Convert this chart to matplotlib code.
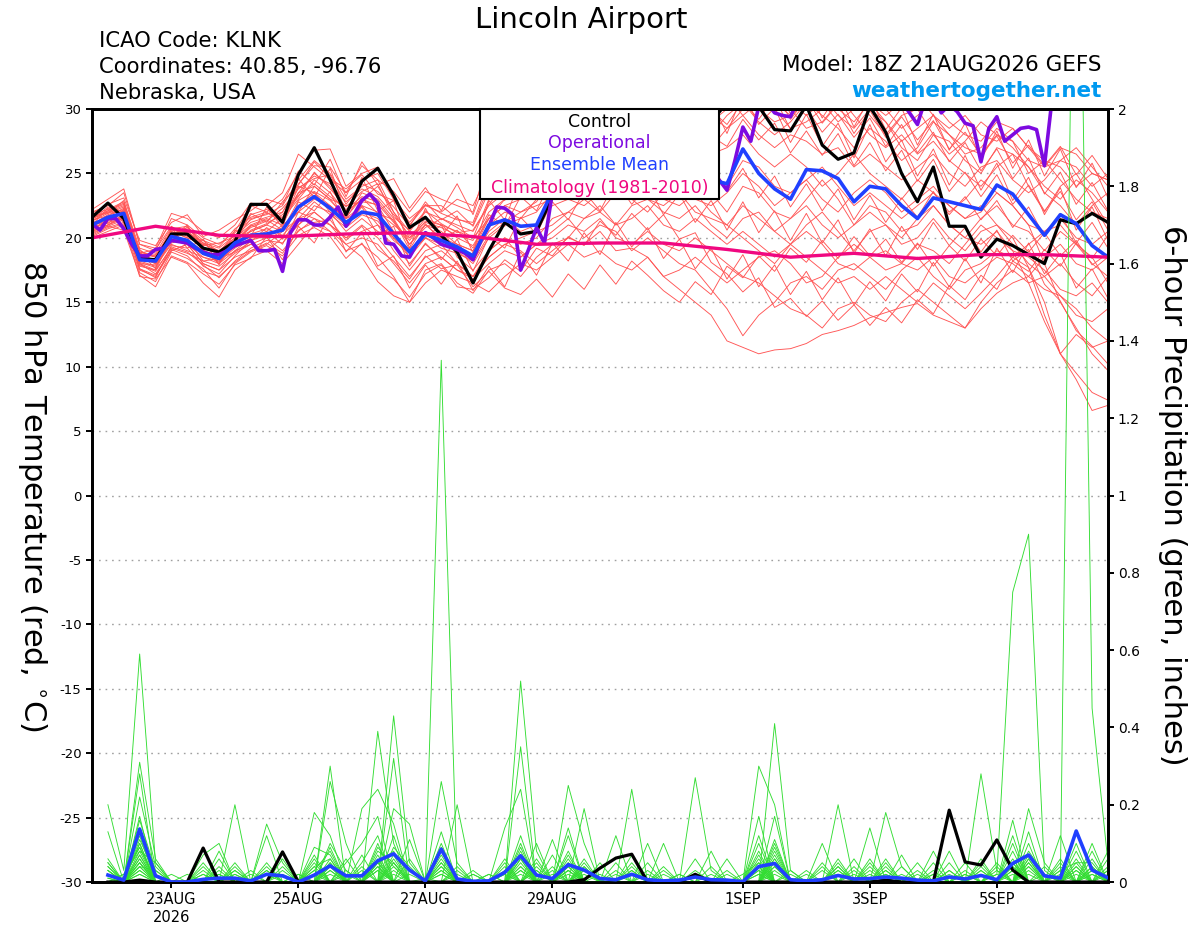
import matplotlib
matplotlib.use('Agg')
import matplotlib.pyplot as plt
from matplotlib.patches import Rectangle
import pandas as pd

plt.rcParams['font.family'] = ['DejaVu Sans']
plt.rcParams['axes.unicode_minus'] = False

# ---------------- data ----------------
run_start = '2026-08-21 18:00'
times = pd.date_range(run_start, periods=65, freq='6h')        # temperature, 6-hourly
times_op = pd.date_range(run_start, periods=129, freq='3h')    # operational, 3-hourly
times_clim = pd.date_range(run_start, periods=17, freq='24h')  # climatology, daily
times_pcp = times[1:]                                          # 6-h precip accumulations

tick_dates = ['2026-08-23', '2026-08-25', '2026-08-27', '2026-08-29',
              '2026-09-01', '2026-09-03', '2026-09-05']
tick_labels = ['23AUG\n2026', '25AUG', '27AUG', '29AUG', '1SEP', '3SEP', '5SEP']

temp_ticks = [30, 25, 20, 15, 10, 5, 0, -5, -10, -15, -20, -25, -30]
pcp_ticks = [0, 0.2, 0.4, 0.6, 0.8, 1, 1.2, 1.4, 1.6, 1.8, 2]
pcp_tick_labels = ['0', '0.2', '0.4', '0.6', '0.8', '1', '1.2', '1.4', '1.6', '1.8', '2']

control_temp = [21.6, 22.7, 21.5, 18.4, 18.3, 20.3, 20.3, 19.2, 18.9, 19.7,
                22.6, 22.6, 21.2, 24.9, 27.0, 24.5, 21.8, 24.4, 25.4, 23.3,
                20.8, 21.6, 20.2, 18.9, 16.5, 19.0, 21.2, 20.3, 20.5, 23.2,
                24.5, 25.0, 26.0, 25.5, 26.5, 27.0, 26.0, 27.5, 28.0, 29.0,
                30.5, 30.8, 30.2, 28.4, 28.3, 30.3, 27.2, 26.1, 26.6, 30.2,
                28.2, 25.0, 22.8, 25.5, 20.9, 20.9, 18.5, 19.9, 19.4, 18.7,
                18.0, 21.4, 21.1, 21.9, 21.2]

mean_temp = [21.0, 21.6, 21.9, 18.3, 18.2, 20.1, 19.8, 18.8, 18.4, 19.6,
             20.2, 20.3, 20.6, 22.4, 23.2, 22.3, 21.2, 22.0, 21.8, 20.3,
             18.9, 20.3, 19.8, 19.3, 18.6, 21.0, 21.4, 20.9, 21.0, 23.6,
             24.3, 24.8, 25.0, 25.3, 25.6, 25.2, 25.0, 25.4, 24.8, 24.5,
             24.2, 26.9, 25.0, 23.8, 23.0, 25.3, 25.2, 24.6, 22.8, 24.0,
             23.8, 22.5, 21.5, 23.1, 22.8, 22.5, 22.2, 24.1, 23.4, 21.8,
             20.2, 21.8, 21.1, 19.4, 18.5]

oper_temp = [21.1, 20.6, 21.5, 21.5, 20.7, 19.5, 18.6, 18.6, 19.1, 19.2,
             19.8, 19.7, 19.6, 19.2, 18.9, 18.7, 18.7, 19.0, 19.4, 19.6,
             19.8, 19.0, 19.0, 19.1, 17.4, 20.4, 21.4, 21.4, 21.0, 21.0,
             21.6, 22.4, 20.9, 21.8, 22.9, 23.4, 22.7, 19.6, 19.5, 18.6,
             18.5, 19.6, 20.4, 20.0, 19.5, 19.3, 19.1, 18.8, 18.3, 19.8,
             20.9, 22.4, 22.3, 21.8, 17.5, 19.1, 20.8, 19.6, 23.5, 25.6,
             26.0, 26.5, 27.0, 26.5, 27.5, 27.0, 26.5, 27.0, 26.0, 25.5,
             26.0, 25.5, 25.0, 25.5, 26.0, 25.0, 25.5, 24.5, 25.0, 24.5,
             23.7, 26.0, 28.6, 27.5, 30.2, 30.5, 29.7, 29.5, 29.4, 30.8,
             31.0, 31.5, 31.2, 32.0, 31.5, 31.0, 31.8, 32.2, 31.5, 31.0,
             30.8, 31.2, 30.6, 29.7, 28.8, 30.8, 31.0, 29.7, 30.3, 29.8,
             28.9, 28.7, 25.9, 28.5, 29.4, 27.5, 28.0, 28.5, 28.6, 28.4,
             25.6, 31.0, 32.5, 33.0, 33.5, 33.0, 33.8, 34.0, 33.5]

clim_temp = [20.0, 20.9, 20.2, 20.1, 20.3, 20.4, 20.1, 19.5, 19.6,
             19.6, 19.1, 18.5, 18.8, 18.4, 18.7, 18.7, 18.5]

tmp01 = [21.5, 22.0, 22.5, 19.0, 18.5, 20.5, 20.0, 19.5, 19.0, 20.0, 21.0, 21.5, 21.0, 23.5, 25.0,
         24.0, 22.0, 23.0, 24.0, 22.0, 20.0, 21.5, 21.0, 20.5, 20.0, 23.0, 24.5, 24.0, 25.0, 27.0,
         28.0, 29.0, 28.5, 30.0, 31.0, 30.5, 31.5, 32.0, 31.0, 30.5, 32.0, 33.0, 31.5, 30.5, 29.5,
         31.0, 32.0, 30.0, 29.0, 30.5, 29.0, 27.0, 26.0, 28.0, 27.5, 26.0, 25.0, 27.0, 26.5, 24.0,
         22.0, 24.0, 25.0, 23.0, 21.0]
tmp02 = [20.5, 21.0, 21.5, 17.5, 17.0, 19.0, 19.5, 18.0, 17.5, 19.0, 19.5, 19.0, 20.0, 21.0, 22.0,
         21.0, 20.0, 20.5, 21.0, 19.0, 17.5, 19.0, 19.5, 18.0, 17.0, 18.5, 19.5, 19.0, 18.0, 19.0,
         20.0, 19.5, 20.5, 19.0, 19.2, 18.5, 17.0, 16.0, 15.0, 14.0, 12.0, 11.5, 11.0, 11.3, 11.4,
         11.8, 12.5, 12.8, 13.2, 13.8, 14.2, 14.6, 14.9, 14.0, 13.5, 13.0, 14.5, 15.7, 16.5, 17.0,
         16.0, 15.5, 14.5, 13.0, 12.0]
tmp03 = [21.0, 21.5, 22.0, 18.0, 17.5, 20.0, 21.0, 19.0, 18.0, 19.5, 21.0, 20.5, 19.5, 22.0, 24.0,
         23.0, 21.5, 22.5, 21.0, 20.0, 19.0, 20.0, 21.0, 18.5, 17.5, 19.0, 20.0, 18.5, 19.5, 20.5,
         21.5, 20.0, 21.0, 20.5, 19.0, 20.0, 19.0, 18.0, 17.5, 16.0, 14.5, 12.4, 14.0, 15.0, 16.5,
         17.0, 16.0, 17.5, 18.0, 17.0, 16.0, 17.5, 18.5, 17.0, 16.0, 17.5, 18.0, 19.0, 18.5, 17.7,
         15.0, 11.0, 12.5, 11.5, 12.0]
tmp04 = [22.0, 22.5, 23.5, 19.5, 19.0, 21.5, 21.0, 20.0, 19.5, 20.5, 22.5, 22.0, 23.0, 25.0, 26.8,
         26.9, 24.0, 25.0, 25.5, 23.0, 21.0, 22.5, 22.0, 23.0, 22.5, 25.0, 26.2, 27.0, 28.0, 29.0,
         30.0, 31.0, 30.5, 29.5, 31.0, 32.0, 31.5, 30.0, 31.0, 32.0, 31.0, 29.5, 30.5, 31.5, 30.0,
         28.5, 29.0, 30.5, 31.0, 29.5, 28.0, 29.5, 30.0, 28.0, 26.5, 27.5, 29.0, 28.0, 27.0, 25.5,
         24.0, 23.0, 24.5, 23.5, 22.0]
tmp05 = [20.0, 20.5, 21.0, 17.0, 16.8, 18.5, 18.0, 16.5, 15.4, 17.5, 18.5, 19.0, 18.0, 19.5, 21.0,
         20.5, 19.0, 19.5, 18.5, 17.0, 15.0, 17.5, 18.0, 16.5, 15.7, 17.5, 18.0, 17.0, 18.5, 19.5,
         20.0, 21.5, 22.0, 21.0, 22.5, 23.0, 22.0, 21.5, 22.5, 21.0, 20.0, 21.5, 22.0, 20.5, 19.5,
         21.0, 22.0, 20.5, 19.0, 20.5, 21.0, 19.5, 20.0, 21.5, 20.0, 19.0, 20.5, 21.0, 19.5, 18.0,
         17.0, 15.5, 14.0, 13.5, 14.5]
tmp06 = [21.5, 22.0, 22.0, 18.5, 18.0, 20.0, 20.5, 19.0, 18.5, 19.5, 20.5, 21.0, 22.0, 24.0, 23.5,
         22.5, 21.5, 23.5, 23.0, 21.5, 19.5, 21.0, 20.5, 19.5, 19.0, 21.5, 23.0, 24.5, 25.5, 26.5,
         27.0, 28.5, 29.5, 28.5, 29.0, 28.0, 29.5, 30.5, 29.0, 28.0, 29.5, 30.5, 29.0, 28.0, 29.0,
         30.5, 29.5, 28.5, 27.0, 28.5, 27.5, 26.0, 27.0, 29.0, 28.0, 27.0, 26.5, 28.0, 27.5, 25.0,
         26.0, 25.5, 24.0, 25.0, 24.5]
tmp07 = [20.8, 21.2, 21.5, 18.2, 17.8, 19.5, 19.0, 18.5, 18.0, 19.0, 20.0, 20.5, 21.5, 23.0, 24.5,
         23.5, 22.0, 23.0, 22.5, 20.5, 18.5, 20.0, 19.5, 19.0, 18.0, 20.0, 21.0, 21.5, 22.0, 23.5,
         24.0, 25.0, 24.5, 26.0, 25.0, 24.0, 25.5, 26.0, 24.5, 23.5, 22.0, 24.0, 23.5, 22.0, 21.5,
         23.0, 24.5, 23.0, 21.0, 22.5, 22.0, 20.5, 21.0, 22.5, 21.0, 20.0, 21.5, 22.5, 21.0, 20.5,
         19.0, 20.5, 19.5, 18.0, 17.0]
tmp08 = [21.0, 21.8, 22.2, 18.0, 17.2, 19.0, 19.5, 18.0, 17.5, 18.5, 19.0, 19.5, 20.5, 21.5, 22.0,
         21.0, 19.5, 18.5, 16.6, 15.5, 15.0, 16.5, 17.5, 17.0, 16.5, 15.8, 17.0, 18.0, 17.5, 18.5,
         19.5, 18.5, 19.0, 18.0, 17.5, 18.5, 17.0, 17.5, 18.5, 17.5, 16.5, 17.5, 18.5, 19.0, 18.0,
         16.5, 17.0, 18.5, 19.5, 18.5, 17.5, 18.0, 19.5, 19.0, 18.0, 19.5, 21.0, 20.0, 19.0, 18.5,
         17.5, 16.0, 15.5, 16.5, 15.0]
tmp09 = [21.2, 21.5, 22.0, 18.8, 18.5, 20.5, 20.0, 19.5, 19.0, 20.0, 20.5, 21.0, 20.5, 22.5, 23.5,
         22.0, 21.0, 22.5, 22.0, 21.0, 20.0, 21.0, 20.0, 19.5, 19.0, 21.0, 22.0, 21.5, 23.0, 24.0,
         25.5, 26.0, 27.0, 26.5, 27.5, 27.0, 28.0, 27.5, 26.5, 27.0, 28.5, 29.5, 28.0, 27.0, 28.0,
         27.5, 26.5, 27.0, 25.5, 26.5, 25.5, 24.5, 25.5, 26.5, 25.0, 24.0, 25.5, 26.0, 24.5, 23.5,
         24.5, 26.0, 25.5, 24.0, 25.0]
tmp10 = [20.5, 21.0, 21.8, 18.5, 18.0, 19.8, 19.5, 18.5, 18.2, 19.2, 20.0, 20.0, 21.0, 22.0, 23.0,
         22.5, 21.5, 22.0, 21.5, 20.0, 18.5, 20.5, 20.0, 19.0, 18.5, 20.5, 21.5, 20.5, 21.0, 22.5,
         23.0, 22.5, 23.5, 24.0, 23.0, 22.0, 23.5, 24.0, 23.0, 22.5, 23.5, 25.0, 24.0, 22.5, 23.5,
         24.5, 23.0, 22.0, 23.5, 24.5, 23.5, 22.0, 23.0, 24.0, 22.5, 21.5, 22.5, 21.0, 20.0, 17.7,
         14.0, 11.0, 9.5, 8.0, 7.4]
tmp11 = [21.8, 22.2, 22.8, 19.2, 18.8, 20.8, 20.2, 19.2, 18.8, 19.8, 21.5, 21.8, 22.5, 24.5, 26.0,
         25.0, 23.0, 24.0, 24.5, 22.0, 20.5, 22.0, 21.5, 21.0, 20.5, 22.5, 23.5, 23.0, 24.5, 25.5,
         26.5, 27.5, 26.5, 28.0, 27.0, 26.0, 27.0, 28.5, 27.5, 26.5, 27.0, 28.0, 26.5, 25.5, 26.5,
         25.5, 24.0, 25.0, 26.5, 25.0, 24.0, 23.0, 24.5, 23.5, 22.0, 23.0, 24.5, 23.5, 22.5, 21.0,
         18.0, 15.0, 13.0, 11.0, 9.7]
tmp12 = [20.2, 20.8, 21.2, 17.8, 17.5, 19.2, 18.8, 18.2, 17.8, 18.8, 19.5, 20.0, 19.0, 20.5, 21.5,
         21.0, 20.0, 21.0, 20.0, 18.5, 17.0, 18.5, 19.0, 18.0, 17.0, 19.0, 20.0, 19.5, 20.0, 21.5,
         22.0, 23.0, 22.0, 23.5, 24.0, 23.0, 22.5, 23.5, 22.0, 21.5, 21.0, 22.5, 21.5, 20.5, 21.5,
         22.5, 21.0, 20.0, 21.0, 22.0, 21.0, 20.0, 21.5, 22.5, 21.0, 20.0, 19.5, 20.5, 19.0, 16.5,
         13.5, 11.0, 9.0, 6.6, 7.0]
tmp13 = [22.2, 23.0, 23.8, 19.5, 19.2, 21.9, 21.5, 20.5, 20.0, 21.0, 22.7, 22.5, 23.5, 26.5, 25.5,
         24.5, 23.5, 25.6, 24.5, 23.6, 22.0, 23.6, 23.0, 22.5, 22.0, 26.2, 27.5, 28.5, 29.0, 30.0,
         30.5, 31.5, 32.0, 30.5, 31.5, 32.5, 31.0, 31.5, 32.0, 31.0, 30.0, 31.5, 32.5, 31.0, 30.5,
         29.5, 30.5, 29.0, 30.0, 31.5, 30.0, 28.5, 29.5, 30.5, 29.0, 28.0, 27.5, 29.0, 28.5, 27.0,
         25.5, 26.0, 27.0, 25.5, 24.0]
tmp14 = [20.6, 21.3, 21.6, 17.6, 16.9, 19.4, 19.2, 17.8, 17.2, 18.6, 19.8, 20.2, 20.8, 22.0, 21.5,
         20.5, 19.5, 20.0, 19.5, 18.0, 16.5, 18.0, 18.5, 17.5, 16.8, 18.0, 19.0, 18.5, 19.5, 20.0,
         21.0, 20.5, 21.5, 20.0, 19.5, 20.5, 19.5, 19.0, 20.0, 19.0, 18.0, 17.0, 16.5, 15.5, 14.5,
         14.0, 13.0, 14.5, 15.0, 14.0, 13.5, 15.0, 16.0, 15.0, 14.0, 13.0, 15.0, 16.5, 17.5, 16.5,
         17.0, 18.0, 16.5, 15.5, 17.0]
tmp15 = [21.3, 21.9, 22.4, 18.7, 18.2, 20.2, 20.6, 19.3, 18.7, 19.7, 20.8, 21.3, 22.3, 23.8, 24.8,
         24.2, 22.8, 23.8, 23.2, 21.8, 20.2, 21.2, 20.8, 20.2, 19.8, 22.0, 23.0, 23.5, 24.0, 25.0,
         26.0, 25.5, 27.0, 28.0, 27.5, 28.5, 29.0, 28.0, 29.5, 29.0, 30.0, 31.0, 30.0, 29.0, 29.5,
         30.5, 31.0, 29.5, 28.5, 30.0, 29.0, 27.5, 28.5, 29.5, 28.0, 26.5, 27.0, 28.5, 27.5, 26.0,
         25.5, 27.0, 26.5, 25.0, 24.5]
tmp16 = [20.4, 20.9, 21.4, 17.9, 17.4, 19.3, 18.9, 17.9, 16.9, 18.2, 19.2, 19.8, 19.6, 21.0, 22.5,
         22.0, 20.5, 21.5, 20.5, 19.5, 18.0, 19.5, 18.5, 17.5, 17.0, 18.5, 19.5, 20.0, 20.5, 21.0,
         22.0, 21.5, 22.5, 21.0, 21.5, 22.5, 21.0, 20.5, 21.5, 20.5, 19.5, 20.5, 19.5, 18.5, 19.5,
         20.5, 19.5, 18.0, 17.5, 18.5, 19.0, 18.0, 17.5, 18.5, 17.0, 16.5, 17.5, 18.5, 18.0, 17.0,
         18.5, 19.5, 18.0, 17.5, 18.5]
tmp17 = [21.6, 22.1, 22.6, 18.9, 18.6, 20.6, 20.4, 19.6, 19.2, 20.2, 21.2, 21.6, 22.0, 24.2, 25.6,
         25.5, 23.5, 24.5, 25.0, 23.0, 21.5, 22.5, 22.5, 21.5, 21.0, 24.0, 25.0, 25.5, 27.0, 28.0,
         29.0, 30.5, 31.5, 31.0, 32.0, 31.5, 30.5, 31.5, 32.5, 31.0, 32.0, 32.5, 31.0, 31.5, 32.5,
         31.5, 30.5, 31.5, 32.0, 30.5, 29.5, 30.5, 31.0, 29.5, 28.5, 29.5, 28.0, 27.5, 28.5, 27.0,
         26.0, 24.5, 23.0, 22.0, 21.5]
tmp18 = [20.9, 21.4, 21.9, 18.4, 18.1, 20.1, 19.7, 18.7, 18.3, 19.4, 20.3, 20.7, 20.2, 21.5, 22.8,
         21.8, 20.8, 21.8, 21.3, 19.8, 18.8, 20.0, 19.2, 18.8, 18.2, 20.2, 21.2, 22.0, 22.5, 23.0,
         23.5, 24.5, 25.5, 25.0, 26.0, 25.5, 24.5, 25.0, 26.0, 25.0, 24.0, 26.0, 25.5, 24.0, 23.5,
         24.5, 25.5, 24.0, 22.5, 23.5, 22.5, 21.5, 22.5, 23.5, 22.5, 21.5, 22.0, 23.5, 22.5, 21.0,
         20.5, 21.5, 20.0, 19.5, 20.5]
tmp19 = [21.4, 21.7, 22.3, 18.6, 18.3, 20.3, 20.8, 19.8, 18.9, 19.9, 21.8, 22.2, 21.5, 23.5, 24.0,
         23.0, 22.5, 22.8, 22.6, 21.2, 19.5, 20.8, 21.5, 20.8, 20.0, 21.5, 22.5, 22.0, 22.8, 24.5,
         25.0, 24.0, 25.5, 24.5, 23.5, 24.5, 23.0, 22.5, 23.5, 22.0, 21.0, 20.0, 19.0, 18.0, 19.5,
         18.5, 17.5, 16.5, 17.0, 16.0, 17.0, 16.0, 15.0, 16.5, 15.5, 14.5, 15.7, 17.0, 18.5, 19.5,
         20.5, 21.0, 19.5, 18.5, 16.5]
tmp20 = [21.1, 21.6, 22.1, 18.1, 17.7, 19.9, 19.8, 19.0, 18.6, 19.3, 20.6, 21.1, 21.8, 23.3, 24.2,
         23.2, 22.2, 23.2, 22.8, 21.3, 19.8, 21.3, 21.0, 20.0, 19.4, 21.5, 22.5, 23.0, 23.5, 25.5,
         26.5, 27.0, 28.0, 27.0, 28.5, 29.5, 30.0, 29.0, 30.5, 29.5, 28.5, 30.0, 31.0, 30.0, 28.5,
         29.0, 30.0, 31.0, 29.5, 28.0, 27.0, 28.0, 26.5, 27.5, 26.0, 25.0, 24.0, 25.5, 26.5, 25.5,
         23.5, 22.5, 21.0, 22.5, 23.5]
tmp21 = [21.0, 22.3, 21.2, 18.9, 17.6, 20.8, 19.2, 19.9, 17.9, 20.6, 20.1, 22.4, 20.8, 24.6, 23.1,
         25.4, 21.9, 24.7, 22.1, 22.9, 19.2, 22.3, 20.1, 21.7, 18.8, 22.9, 21.4, 24.6, 23.0, 26.8,
         25.1, 28.4, 26.2, 29.5, 27.3, 30.4, 27.8, 29.9, 27.2, 30.6, 28.1, 31.2, 28.8, 30.1, 27.4,
         29.6, 27.1, 28.9, 26.2, 28.8, 25.9, 27.6, 24.8, 26.9, 24.1, 26.4, 23.7, 25.8, 22.9, 24.7,
         21.8, 23.9, 20.6, 22.4, 19.8]
tmp22 = [20.3, 20.9, 20.6, 17.1, 16.2, 18.6, 18.1, 17.2, 16.4, 17.9, 18.4, 20.1, 18.3, 20.9, 19.6,
         21.8, 18.9, 20.4, 17.8, 18.6, 16.1, 17.9, 16.4, 18.2, 15.9, 17.8, 16.2, 18.9, 17.1, 19.6,
         18.2, 20.4, 18.7, 21.2, 19.3, 20.8, 18.4, 19.9, 17.6, 19.2, 16.8, 18.7, 16.2, 17.9, 15.6,
         17.4, 15.2, 16.9, 14.8, 16.6, 15.1, 17.2, 15.8, 18.1, 16.2, 18.4, 16.5, 19.2, 17.3, 19.6,
         17.2, 18.8, 16.1, 17.6, 15.3]
tmp23 = [21.9, 22.6, 23.1, 19.8, 19.4, 21.2, 21.8, 20.1, 20.6, 21.4, 22.1, 23.0, 22.6, 25.2, 24.1,
         26.1, 23.2, 25.9, 24.1, 24.6, 22.3, 23.9, 22.1, 24.2, 21.8, 25.1, 24.2, 27.3, 26.1, 28.9,
         27.6, 30.8, 29.1, 31.8, 30.2, 32.6, 30.4, 32.1, 29.8, 31.9, 30.2, 32.8, 30.7, 32.3, 29.6,
         31.8, 29.3, 31.2, 28.6, 30.9, 28.4, 30.1, 27.2, 29.6, 26.8, 28.9, 26.1, 28.3, 25.4, 27.6,
         24.8, 26.9, 23.9, 25.8, 23.1]
tmp24 = [20.7, 21.4, 21.9, 18.0, 17.9, 19.6, 19.9, 18.2, 18.4, 18.9, 19.7, 20.8, 19.9, 22.8, 22.1,
         23.6, 20.9, 22.4, 20.2, 20.9, 17.8, 19.6, 18.3, 19.9, 17.4, 20.1, 19.2, 21.6, 20.3, 22.8,
         21.4, 23.6, 22.1, 24.4, 22.6, 24.1, 21.8, 23.4, 21.2, 22.9, 20.6, 22.8, 20.4, 22.1, 19.8,
         21.9, 19.6, 21.4, 18.8, 20.7, 18.6, 20.9, 19.1, 21.2, 19.4, 20.8, 18.9, 20.6, 18.2, 19.1,
         16.4, 15.1, 12.8, 11.6, 10.2]
tmp25 = [21.7, 21.9, 22.9, 18.8, 19.1, 20.9, 20.1, 19.8, 19.3, 20.7, 21.6, 22.0, 21.2, 23.9, 24.6,
         24.9, 22.6, 24.2, 23.6, 22.4, 20.9, 22.8, 21.4, 22.1, 20.9, 23.6, 22.9, 25.2, 24.6, 26.4,
         25.8, 27.9, 27.1, 28.9, 28.2, 29.6, 28.1, 30.2, 28.6, 29.9, 28.8, 30.6, 29.2, 30.9, 28.4,
         30.1, 28.2, 29.6, 27.8, 29.3, 27.1, 28.8, 26.6, 28.2, 25.9, 27.4, 25.2, 26.9, 24.6, 26.2,
         23.4, 25.1, 22.6, 24.3, 22.1]
tmp26 = [20.1, 20.7, 21.1, 17.3, 16.6, 18.9, 18.4, 17.6, 16.1, 18.0, 18.9, 19.4, 18.6, 20.2, 20.8,
         20.1, 18.4, 19.6, 17.6, 16.8, 15.4, 17.2, 17.9, 16.2, 16.0, 16.9, 18.3, 17.4, 19.2, 18.6,
         20.1, 19.4, 21.3, 20.2, 21.9, 20.6, 21.8, 19.9, 20.4, 18.1, 17.2, 15.8, 16.9, 14.6, 15.3,
         13.9, 15.1, 13.6, 14.8, 13.2, 14.6, 13.4, 15.2, 14.1, 16.3, 15.2, 17.1, 16.0, 18.2, 17.4,
         19.1, 17.8, 19.6, 18.4, 20.2]
tmp27 = [21.2, 21.1, 22.2, 18.3, 18.4, 20.4, 19.6, 19.1, 18.1, 19.8, 20.9, 21.4, 20.6, 22.9, 23.6,
         22.9, 21.6, 23.1, 21.9, 21.4, 19.1, 21.1, 19.8, 20.6, 19.2, 21.8, 20.9, 23.2, 22.1, 24.6,
         23.4, 25.6, 24.2, 26.8, 25.1, 26.6, 24.4, 26.2, 23.9, 25.8, 23.6, 25.4, 23.1, 24.8, 22.4,
         24.2, 22.1, 23.8, 21.4, 23.3, 21.2, 23.1, 21.6, 23.6, 21.8, 23.2, 21.4, 22.9, 20.8, 22.4,
         20.1, 21.9, 19.6, 21.2, 19.2]
tmp28 = [21.4, 22.4, 22.0, 19.1, 18.0, 20.7, 20.9, 19.4, 19.6, 20.1, 21.9, 21.2, 22.8, 24.1, 25.9,
         24.6, 23.8, 24.9, 23.4, 22.9, 21.2, 22.6, 21.9, 21.4, 21.2, 24.4, 23.6, 26.1, 25.4, 27.8,
         26.9, 29.4, 28.2, 30.6, 29.1, 31.2, 29.4, 31.0, 29.2, 30.8, 29.9, 31.6, 30.1, 31.4, 29.2,
         30.8, 28.9, 30.4, 28.1, 29.9, 27.8, 29.4, 27.6, 29.1, 26.9, 28.2, 26.4, 27.9, 25.8, 27.2,
         25.6, 27.1, 24.9, 26.4, 24.6]
tmp29 = [20.6, 21.0, 21.6, 17.6, 17.1, 19.1, 18.6, 17.4, 17.0, 18.1, 19.0, 19.6, 18.8, 20.6, 21.2,
         21.4, 19.8, 20.9, 19.1, 18.2, 16.8, 18.6, 17.6, 17.9, 16.2, 17.4, 16.1, 15.6, 16.8, 15.4,
         17.2, 16.0, 17.9, 16.4, 18.2, 17.1, 15.9, 15.0, 16.6, 15.6, 17.8, 16.9, 18.6, 17.4, 19.2,
         18.1, 19.8, 18.4, 20.1, 18.6, 19.9, 18.1, 19.6, 17.8, 19.4, 18.2, 19.9, 18.6, 20.2, 18.9,
         20.4, 18.6, 19.8, 17.9, 18.8]
tmp30 = [21.3, 22.1, 22.7, 18.5, 18.7, 20.2, 20.8, 19.6, 18.8, 20.4, 21.4, 21.9, 21.6, 23.2, 25.1,
         23.8, 22.4, 23.6, 24.2, 21.6, 20.6, 22.1, 21.1, 20.4, 20.6, 22.6, 24.1, 23.4, 25.6, 24.8,
         27.1, 26.2, 28.6, 27.2, 29.4, 28.1, 29.9, 28.4, 30.2, 27.9, 27.1, 29.2, 27.6, 28.9, 26.6,
         28.3, 26.4, 28.1, 25.6, 27.4, 25.2, 26.8, 24.4, 26.1, 23.6, 25.1, 23.2, 24.9, 22.6, 24.1,
         22.1, 23.6, 21.4, 22.8, 20.6]

control_pcp = [0, 0, .005, 0, 0, 0, .088, 0,
               0, 0, 0, .078, 0, 0, 0, 0,
               0, 0, 0, 0, 0, 0, 0, 0,
               0, 0, 0, 0, 0, 0, .006, .036,
               .062, .072, 0, 0, 0, .02, 0, 0,
               0, 0, 0, 0, 0, 0, 0, 0,
               0, .005, 0, 0, 0, .186, .052, .044,
               .109, .031, 0, 0, 0, 0, 0, 0]

mean_pcp = [.018, .005, .137, .016, 0, 0, .007, .01,
            .01, .003, .02, .016, 0, .018, .042, .016,
            .016, .055, .073, .031, .003, .085, .008, .002,
            .003, .025, .068, .018, .009, .045, .031, .009,
            .006, .02, .006, .003, .005, .013, .006, .005,
            .001, .04, .048, .006, .003, .006, .017, .008,
            .009, .013, .01, .005, .003, .013, .008, .017,
            .006, .048, .07, .016, .01, .132, .031, .011]

pcp01 = [.20, .03, .59, .05, 0, 0, 0, 0,   0, 0, 0, 0, 0, 0, .30, 0,
         0, .05, 0, 0, 0, 1.35, 0, 0,      0, 0, .10, 0, 0, .05, 0, 0,
         0, 0, 0, 0, 0, 0, 0, 0,           0, 0, .41, .03, 0, 0, 0, 0,
         0, 0, 0, 0, 0, 0, 0, 0,           0, .05, 0, 0, 0, 3.2, .45, .05]
pcp02 = [.13, 0, .31, .06, 0, 0, 0, 0,     .20, 0, 0, 0, 0, 0, 0, 0,
         0, 0, .43, .05, 0, 0, 0, 0,       0, 0, .52, .08, 0, 0, 0, 0,
         0, .24, 0, 0, 0, 0, 0, 0,         0, .10, 0, 0, 0, 0, 0, 0,
         0, 0, 0, 0, 0, 0, 0, .28,         .03, 0, .13, 0, 0, 0, 0, 0]
pcp03 = [.05, 0, .28, 0, 0, 0, 0, .08,     0, 0, 0, 0, 0, .18, .12, 0,
         0, .39, .10, 0, 0, .26, .05, 0,   0, 0, 0, 0, 0, .25, .10, 0,
         0, 0, 0, 0, 0, .27, .03, 0,       0, 0, 0, 0, 0, 0, .20, 0,
         0, 0, 0, 0, 0, 0, 0, 0,           .02, .75, .90, .03, 0, 0, 0, 0]
pcp04 = [.03, 0, .22, .04, 0, 0, 0, 0,     0, 0, .15, .05, 0, 0, .26, .10,
         0, 0, .32, 0, 0, .10, 0, 0,       0, 0, .35, 0, 0, 0, 0, 0,
         .12, 0, 0, 0, 0, 0, 0, 0,         0, .30, .20, 0, 0, 0, 0, 0,
         0, .18, .04, 0, 0, 0, 0, 0,       0, 0, 0, 0, .05, 0, .10, 0]
pcp05 = [.02, 0, .17, 0, 0, 0, .07, .10,   0, 0, 0, 0, 0, 0, 0, 0,
         .19, .24, .15, 0, 0, 0, .20, 0,   0, 0, 0, 0, .11, 0, .19, 0,
         0, 0, .10, 0, 0, 0, 0, 0,         0, 0, .17, 0, 0, 0, 0, 0,
         .14, 0, 0, 0, 0, .08, 0, 0,       0, 0, .19, .05, 0, 0, 0, 0]
pcp06 = [.04, 0, .13, 0, .02, 0, 0, 0,     0, 0, .12, 0, 0, .09, .07, 0,
         0, 0, .19, .15, 0, 0, 0, 0,       0, .14, .24, 0, 0, .14, 0, 0,
         0, 0, 0, .10, 0, 0, 0, 0,         0, 0, .11, 0, 0, .10, 0, 0,
         0, 0, 0, 0, .08, 0, 0, 0,         0, .16, 0, 0, 0, .10, 0, .08]
pcp07 = [0, .02, .08, .05, 0, 0, .03, 0,   0, 0, 0, .04, 0, 0, 0, .05,
         .10, .17, 0, 0, 0, .13, 0, 0,     0, 0, 0, .06, 0, .12, 0, 0,
         0, .07, 0, 0, 0, 0, 0, .06,       0, .17, 0, 0, 0, 0, 0, .06,
         0, 0, 0, .05, 0, 0, 0, 0,         0, .06, 0, 0, .12, 0, .06, 0]
pcp08 = [.02, 0, .05, 0, 0, 0, 0, 0,       .04, 0, 0, 0, .02, 0, .04, 0,
         0, 0, 0, .11, 0, 0, 0, 0,         0, 0, .08, 0, .04, 0, 0, .05,
         0, 0, 0, 0, 0, 0, .08, 0,         0, 0, .06, 0, 0, 0, .06, 0,
         0, 0, .07, 0, 0, 0, .05, 0,       0, 0, .08, .02, 0, 0, 0, 0]
pcp09 = [0, 0, .10, 0, 0, .02, 0, 0,       0, .03, 0, 0, 0, .05, 0, 0,
         0, .08, .05, 0, 0, .06, 0, 0,     0, .03, 0, 0, 0, 0, .04, 0,
         .03, 0, 0, 0, .02, 0, 0, 0,       .02, .05, 0, 0, .03, 0, 0, 0,
         .06, 0, 0, 0, 0, .03, 0, 0,       .04, 0, 0, 0, .03, .05, 0, 0]
pcp10 = [.01, 0, .07, 0, 0, 0, 0, .04,     0, 0, .05, 0, 0, 0, .10, .03,
         0, 0, .07, 0, 0, 0, 0, .02,       0, 0, .05, 0, 0, .06, 0, 0,
         0, 0, .03, 0, 0, 0, 0, 0,         0, .08, 0, .02, 0, 0, 0, 0,
         0, .05, 0, 0, 0, 0, 0, .06,       0, .04, 0, 0, 0, 0, .08, 0]
pcp11 = [0, 0, .04, .03, 0, 0, 0, 0,       0, 0, 0, .03, 0, 0, 0, 0,
         .05, .12, 0, 0, 0, .04, 0, 0,     .02, 0, 0, .04, 0, 0, 0, 0,
         0, .05, 0, 0, 0, .03, 0, 0,       0, 0, .09, 0, 0, .04, 0, 0,
         0, 0, 0, 0, .03, 0, 0, 0,         0, 0, .06, 0, 0, 0, 0, .04]
pcp12 = [.03, 0, .12, 0, 0, 0, .05, 0,     0, 0, 0, 0, 0, .04, .06, 0,
         0, 0, .09, .04, 0, 0, 0, 0,       0, 0, .06, 0, 0, 0, .03, 0,
         0, 0, 0, .04, 0, 0, 0, 0,         0, .04, 0, 0, 0, 0, .03, 0,
         0, .06, 0, 0, 0, 0, .02, 0,       0, .10, 0, 0, 0, .06, 0, 0]
pcp13 = [0, 0, .03, 0, 0, 0, 0, .02,       0, 0, 0, 0, 0, 0, .03, 0,
         0, .06, 0, 0, 0, 0, .03, 0,       0, 0, .03, 0, 0, .08, 0, 0,
         .05, 0, 0, 0, 0, 0, 0, 0,         0, 0, .05, 0, 0, 0, 0, 0,
         .04, 0, 0, 0, 0, 0, 0, .03,       0, 0, .05, 0, 0, 0, .04, 0]
pcp14 = [.05, 0, .06, 0, 0, 0, 0, 0,       .05, 0, 0, 0, 0, .07, 0, 0,
         .07, 0, .12, 0, 0, .08, 0, 0,     0, 0, 0, .10, 0, 0, 0, 0,
         0, .04, 0, 0, 0, 0, 0, 0,         0, .06, 0, 0, 0, 0, 0, .04,
         0, 0, 0, .03, 0, 0, 0, 0,         0, .12, 0, 0, .04, 0, 0, .06]
pcp15 = [0, .01, .09, 0, 0, 0, 0, 0,       0, 0, .04, 0, 0, 0, 0, .06,
         0, .10, 0, 0, 0, 0, 0, 0,         0, .05, 0, 0, .07, 0, .05, 0,
         0, 0, 0, 0, 0, 0, .04, 0,         0, 0, .07, 0, 0, 0, .05, 0,
         0, 0, 0, 0, 0, .05, 0, 0,         0, 0, .10, 0, 0, .08, 0, 0]
pcp16 = [0, 0, .02, 0, 0, 0, .02, 0,       0, 0, 0, 0, 0, .03, .08, 0,
         0, 0, .06, 0, 0, .05, 0, 0,       0, 0, .12, 0, 0, .03, 0, 0,
         0, 0, .05, 0, 0, 0, 0, 0,         0, .12, 0, .03, 0, 0, 0, 0,
         0, .03, 0, 0, 0, 0, 0, 0,         .05, 0, .04, 0, 0, 0, .03, 0]
pcp17 = [.02, 0, .04, 0, 0, 0, 0, 0,       0, 0, 0, .06, 0, 0, 0, 0,
         0, .09, .04, 0, 0, 0, .04, 0,     0, 0, .04, 0, 0, 0, 0, .02,
         0, 0, 0, 0, 0, .06, 0, 0,         0, 0, .04, 0, 0, 0, 0, 0,
         .05, 0, 0, 0, 0, 0, .03, 0,       0, .08, 0, 0, .06, 0, 0, 0]
pcp18 = [0, 0, .11, .02, 0, 0, 0, 0,       .03, 0, 0, 0, 0, 0, .05, 0,
         .04, 0, 0, .06, 0, .03, 0, 0,     0, .06, 0, 0, 0, .04, 0, 0,
         0, .03, 0, 0, 0, 0, 0, 0,         0, .03, 0, 0, 0, .05, 0, 0,
         0, 0, .04, 0, 0, 0, 0, .04,       0, 0, 0, .04, 0, .04, 0, 0]
pcp19 = [.04, 0, .07, 0, 0, 0, 0, .06,     0, 0, 0, 0, 0, .06, 0, 0,
         0, .05, .08, 0, 0, 0, 0, .03,     0, 0, .09, 0, 0, 0, .06, 0,
         0, 0, 0, .03, 0, 0, 0, 0,         0, 0, .08, 0, 0, 0, 0, .03,
         0, 0, 0, 0, .05, 0, 0, 0,         0, 0, .07, 0, 0, 0, 0, .03]
pcp20 = [0, 0, .05, 0, 0, 0, 0, 0,         0, 0, .03, 0, 0, 0, .02, 0,
         0, .04, 0, 0, 0, .07, 0, 0,       0, 0, 0, .03, 0, .05, 0, 0,
         0, 0, 0, 0, 0, 0, 0, .03,         0, .07, 0, 0, 0, 0, .04, 0,
         0, .04, 0, 0, 0, 0, 0, 0,         0, .03, 0, 0, 0, .05, .05, 0]
pcp21 = [0, 0, .04, 0, 0, 0, 0, 0,         .02, 0, 0, 0, 0, 0, .05, 0,
         0, .03, 0, 0, 0, .02, 0, 0,       0, 0, .04, 0, 0, .02, 0, 0,
         0, .03, 0, 0, 0, 0, 0, 0,         0, 0, .03, 0, 0, 0, 0, 0,
         0, .02, 0, 0, 0, 0, 0, .02,       0, 0, .04, 0, 0, 0, .03, 0]
pcp22 = [.03, 0, .14, 0, 0, 0, 0, .02,     0, 0, 0, 0, 0, .03, 0, 0,
         0, 0, .05, 0, 0, 0, 0, 0,         0, .02, 0, .03, 0, 0, .02, 0,
         0, 0, 0, 0, 0, 0, 0, 0,           0, .04, 0, 0, 0, 0, .02, 0,
         0, 0, 0, 0, .02, 0, 0, 0,         0, .03, 0, 0, 0, .02, 0, 0]
pcp23 = [0, 0, .06, 0, 0, 0, .04, 0,       0, 0, .02, 0, 0, 0, 0, .03,
         0, .07, 0, 0, 0, .09, 0, 0,       0, 0, .07, 0, 0, .03, 0, 0,
         0, 0, 0, 0, 0, .02, 0, 0,         0, 0, .06, 0, 0, 0, 0, 0,
         .03, 0, 0, 0, 0, .02, 0, 0,       0, .04, 0, 0, .02, 0, 0, .02]
pcp24 = [0, .02, .09, 0, 0, 0, 0, 0,       0, 0, 0, .02, 0, 0, .04, 0,
         .03, 0, .05, 0, 0, 0, .02, 0,     0, 0, .02, 0, .03, 0, 0, 0,
         0, 0, .02, 0, 0, 0, 0, 0,         0, .02, 0, 0, 0, .03, 0, 0,
         0, 0, .02, 0, 0, 0, 0, .05,       0, 0, .03, 0, 0, 0, .02, 0]
pcp25 = [.06, 0, .16, .03, 0, 0, 0, 0,     .02, 0, 0, 0, 0, .02, 0, 0,
         0, .04, 0, .02, 0, .04, 0, 0,     0, .04, 0, 0, 0, .07, 0, 0,
         .02, 0, 0, 0, 0, 0, 0, 0,         0, 0, .10, 0, 0, 0, 0, .02,
         0, .03, 0, 0, 0, 0, 0, 0,         .02, 0, .06, 0, 0, .03, 0, 0]
pcp26 = [0, 0, .03, 0, 0, 0, 0, .03,       0, 0, 0, 0, 0, 0, .09, 0,
         0, 0, .03, 0, 0, .05, 0, 0,       0, 0, 0, .05, 0, 0, .03, 0,
         0, 0, 0, .02, 0, 0, 0, 0,         0, .05, 0, 0, 0, 0, .03, 0,
         0, 0, 0, 0, 0, .03, 0, 0,         0, .05, 0, 0, 0, 0, .04, 0]
pcp27 = [.01, 0, .05, 0, 0, 0, 0, 0,       0, 0, .03, 0, 0, .04, 0, 0,
         0, .05, 0, 0, 0, 0, 0, .02,       0, 0, .06, 0, 0, .04, 0, 0,
         0, 0, 0, 0, 0, 0, .02, 0,         0, 0, .04, 0, 0, 0, 0, 0,
         .02, 0, 0, 0, 0, 0, .02, 0,       0, 0, .05, 0, 0, .04, 0, 0]
pcp28 = [0, 0, .08, 0, 0, 0, .02, 0,       0, 0, 0, 0, .02, 0, .03, 0,
         0, 0, .04, 0, 0, .03, 0, 0,       0, .02, 0, 0, .02, 0, 0, 0,
         0, .02, 0, 0, 0, 0, 0, 0,         0, .03, 0, 0, .02, 0, 0, 0,
         0, 0, 0, .02, 0, 0, 0, 0,         0, .02, 0, 0, .03, 0, 0, .03]
pcp29 = [.02, 0, .10, 0, 0, 0, 0, 0,       .03, 0, 0, 0, 0, 0, 0, .02,
         0, .03, 0, 0, .01, 0, 0, 0,       0, 0, .03, 0, 0, 0, .04, 0,
         0, 0, 0, 0, .02, 0, 0, 0,         0, 0, .02, 0, 0, 0, .04, 0,
         0, 0, 0, 0, .02, 0, 0, .03,       0, 0, 0, .02, 0, .03, 0, 0]
pcp30 = [0, 0, .02, 0, 0, 0, 0, 0,         0, .02, 0, 0, 0, 0, .06, 0,
         0, 0, .02, 0, 0, .02, 0, 0,       .02, 0, 0, 0, 0, .03, 0, 0,
         0, 0, 0, 0, 0, 0, 0, .02,         0, .02, 0, 0, 0, 0, 0, 0,
         0, .02, 0, 0, 0, 0, 0, 0,         .03, 0, .02, 0, 0, 0, .02, 0]

tmp_members = [tmp01, tmp02, tmp03, tmp04, tmp05, tmp06, tmp07, tmp08, tmp09, tmp10,
               tmp11, tmp12, tmp13, tmp14, tmp15, tmp16, tmp17, tmp18, tmp19, tmp20,
               tmp21, tmp22, tmp23, tmp24, tmp25, tmp26, tmp27, tmp28, tmp29, tmp30]
pcp_members = [pcp01, pcp02, pcp03, pcp04, pcp05, pcp06, pcp07, pcp08, pcp09, pcp10,
               pcp11, pcp12, pcp13, pcp14, pcp15, pcp16, pcp17, pcp18, pcp19, pcp20,
               pcp21, pcp22, pcp23, pcp24, pcp25, pcp26, pcp27, pcp28, pcp29, pcp30]

# ---------------- styles ----------------
C_RED = '#ff5555'
C_GREEN = '#33dd33'
C_CTRL = 'black'
C_OPER = '#7d0ae0'
C_MEAN = '#2040ff'
C_CLIM = '#f00880'
C_SITE = '#0099f0'

fig = plt.figure(figsize=(12, 9.27), dpi=100)
ax = fig.add_axes([0.0767, 0.0485, 0.8466, 0.8339])
ax2 = ax.twinx()

# temperature (left axis)
for m in tmp_members:
    ax.plot(times, m, color=C_RED, lw=0.65, zorder=2)
ax.plot(times, control_temp, color=C_CTRL, lw=2.3, zorder=4)
ax.plot(times_op, oper_temp, color=C_OPER, lw=2.6, zorder=5)
ax.plot(times, mean_temp, color=C_MEAN, lw=2.6, zorder=6)
ax.plot(times_clim, clim_temp, color=C_CLIM, lw=2.4, zorder=7)

# precipitation (right axis)
for m in pcp_members:
    ax2.plot(times_pcp, m, color=C_GREEN, lw=0.65, zorder=2)
ax2.plot(times_pcp, control_pcp, color=C_CTRL, lw=2.3, zorder=4)
ax2.plot(times_pcp, mean_pcp, color=C_MEAN, lw=2.6, zorder=5)

ax.set_xlim(times[0], times[-1])
ax.set_ylim(-30, 30)
ax2.set_ylim(0, 2)

ax.set_yticks(temp_ticks)
ax.set_yticklabels([str(t) for t in temp_ticks])
ax2.set_yticks(pcp_ticks)
ax2.set_yticklabels(pcp_tick_labels)
ax.set_xticks(pd.to_datetime(tick_dates))
ax.set_xticklabels(tick_labels)

ax.grid(axis='y', color='#a0a0a0', linestyle=(0, (1.2, 3.5)), lw=1.0)
ax.grid(axis='x', visible=False)

for a in (ax, ax2):
    for s in a.spines.values():
        s.set_linewidth(2.0)
    a.tick_params(width=1.4, length=4.5, direction='out')
ax.tick_params(axis='y', labelsize=9.5, pad=3)
ax.tick_params(axis='x', labelsize=10.5, pad=3)
ax2.tick_params(axis='y', labelsize=10, pad=2.5)

# legend box (on the top axes so it hides all lines)
ax2.add_patch(Rectangle((0.3819, 0.8836), 0.2352, 0.1164, transform=ax2.transAxes,
                        facecolor='white', edgecolor='black', lw=1.5, zorder=20,
                        clip_on=False))
leg_items = [('Control', C_CTRL, 0.9771), ('Operational', C_OPER, 0.9499),
             ('Ensemble Mean', C_MEAN, 0.9211), ('Climatology (1981-2010)', C_CLIM, 0.8917)]
for txt, col, yy in leg_items:
    ax2.text(0.4995, yy, txt, color=col, fontsize=12.5, ha='center', va='baseline',
             transform=ax2.transAxes, zorder=21)

# header texts
fig.text(0.484, 0.9694, 'Lincoln Airport', fontsize=21, ha='center', va='baseline')
fig.text(0.0825, 0.9496, 'ICAO Code: KLNK', fontsize=15.2, ha='left', va='baseline')
fig.text(0.0825, 0.9209, 'Coordinates: 40.85, -96.76', fontsize=15.2, ha='left', va='baseline')
fig.text(0.0825, 0.8932, 'Nebraska, USA', fontsize=15.2, ha='left', va='baseline')
fig.text(0.9183, 0.9234, 'Model: 18Z 21AUG2026 GEFS', fontsize=15.5, ha='right', va='baseline')
fig.text(0.9183, 0.8954, 'weathertogether.net', fontsize=15.5, fontweight='bold',
         color=C_SITE, ha='right', va='baseline')

# axis titles
fig.text(0.0267, 0.4654, '850 hPa Temperature (red, $^{\\circ}$C)', fontsize=22,
         rotation=270, ha='center', va='center')
fig.text(0.9767, 0.4654, '6-hour Precipitation (green, inches)', fontsize=22,
         rotation=270, ha='center', va='center')

fig.savefig('out.png', dpi=100)
